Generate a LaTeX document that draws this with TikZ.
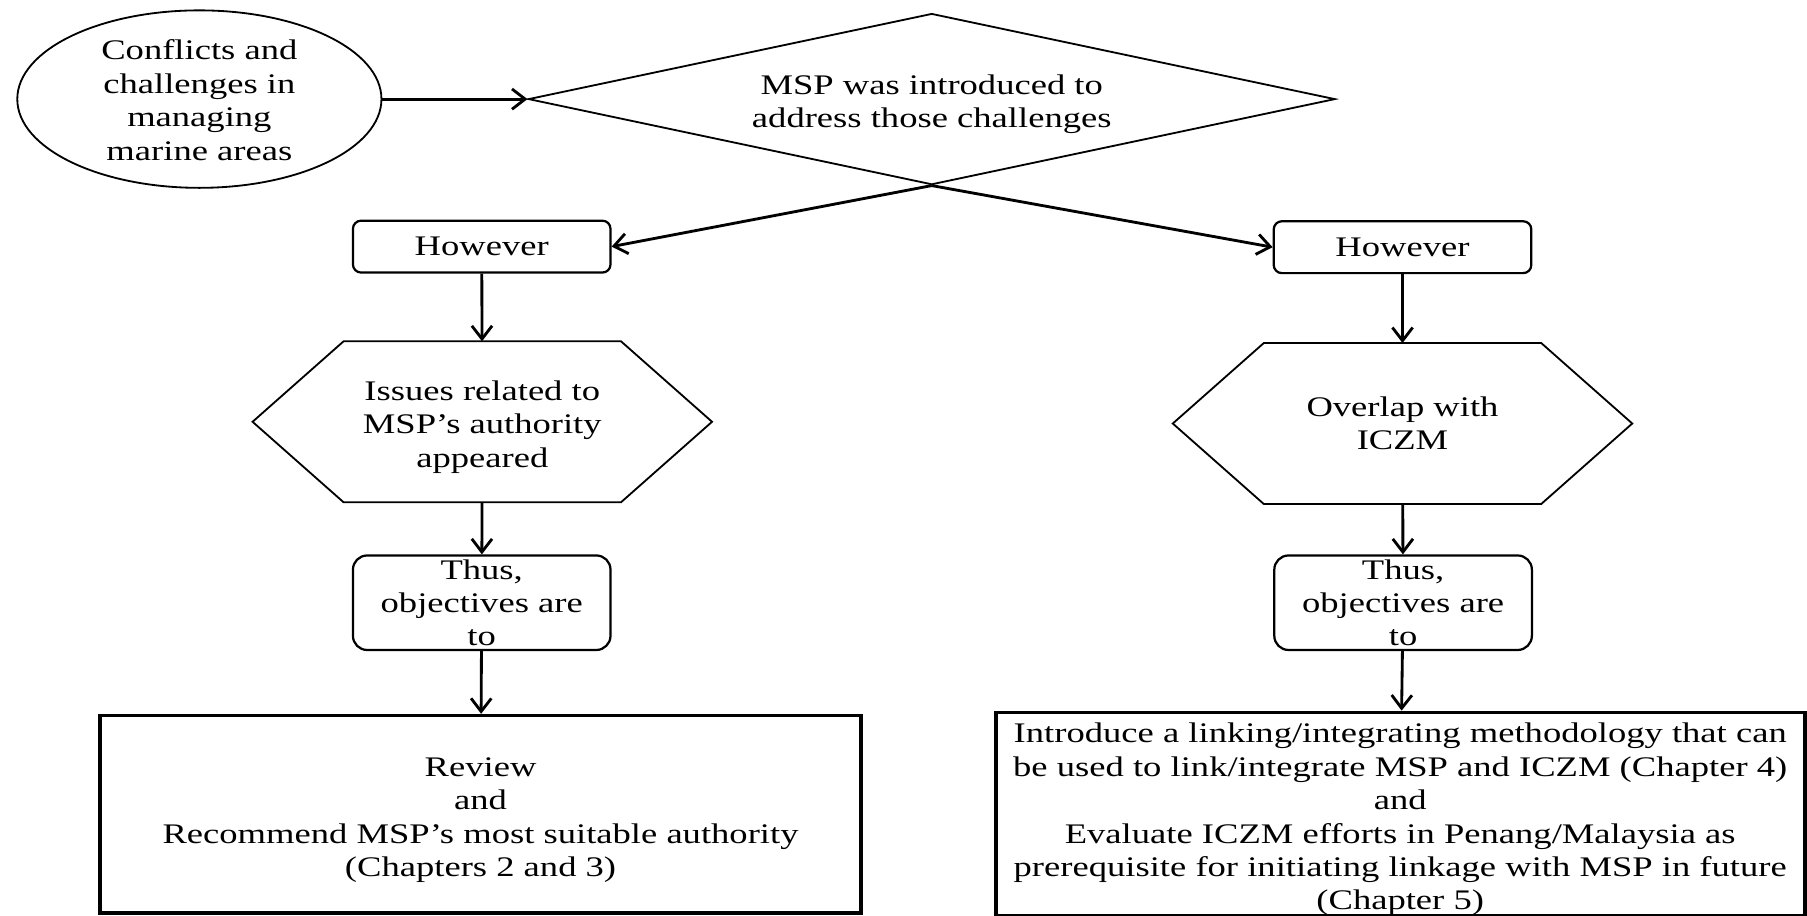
\documentclass[tikz,border=0pt]{standalone}
\usepackage{fontspec}
\setmainfont{Liberation Serif}[FakeStretch=1.29]
\usetikzlibrary{shapes.geometric}
\usetikzlibrary{arrows.meta}

\begin{document}
\begin{tikzpicture}[
	every node/.style={font=\fontsize{14}{16.5}\selectfont, align=center, inner sep=0pt},
	oval/.style={draw, ellipse, line width=0.9pt, minimum width=6.32cm, minimum height=3.08cm},
	rhomb/.style={draw, diamond, aspect=4.7, line width=0.9pt, minimum width=14cm, minimum height=2.97cm},
	howbox/.style={draw, rounded corners=4pt, line width=1.1pt, minimum width=4.47cm, minimum height=0.9cm},
	thusbox/.style={draw, rounded corners=7pt, line width=1.1pt, minimum width=4.47cm, minimum height=1.64cm},
	hexa/.style={minimum width=7.96cm, minimum height=2.78cm},
	bigbox/.style={draw, line width=1.8pt, minimum height=3.42cm},
	arr/.style={-{Straight Barb[length=6.5pt,width=10pt]}, line width=1.4pt}
]
	\useasboundingbox (0,0) rectangle (31.36,-15.88);

	% top row
	\node[oval] (conf) at (3.46,-1.72) {\rule{0pt}{11pt}Conflicts and\\challenges in\\managing\\marine areas};
	\node[rhomb] (msp) at (16.17,-1.72) {\rule{0pt}{15pt}MSP was introduced to\\address those challenges};

	% left branch
	\node[howbox] (how1) at (8.36,-4.28) {However};
	\node[hexa] (hex1) at (8.37,-7.32) {\rule{0pt}{15pt}Issues related to\\MSP’s authority\\appeared};
	\node[thusbox] (thus1) at (8.36,-10.46) {Thus,\\objectives are\\to};
	\node[bigbox, minimum width=13.2cm] (rev) at (8.34,-14.13)
		{\rule{0pt}{15pt}Review\\and\\Recommend MSP’s most suitable authority\\(Chapters 2 and 3)};

	% right branch
	\node[howbox] (how2) at (24.34,-4.29) {However};
	\node[hexa] (hex2) at (24.34,-7.35) {Overlap with\\ICZM};
	\node[thusbox] (thus2) at (24.35,-10.46) {Thus,\\objectives are\\to};
	\node[bigbox, minimum width=14.04cm] (chap) at (24.30,-14.13)
		{\rule{0pt}{15pt}Introduce a linking/integrating methodology that can\\be used to link/integrate MSP and ICZM (Chapter 4)\\and\\Evaluate ICZM efforts in Penang/Malaysia as\\prerequisite for initiating linkage with MSP in future\\(Chapter 5)};

	% hexagon outlines
	\foreach \h in {hex1,hex2}
		\draw[line width=0.9pt] (\h.west) -- ([xshift=1.58cm]\h.north west) -- ([xshift=-1.58cm]\h.north east)
			-- (\h.east) -- ([xshift=-1.58cm]\h.south east) -- ([xshift=1.58cm]\h.south west) -- cycle;

	% connectors
	\draw[arr] (conf.east) -- (msp.west);
	\draw[arr] (msp.south) -- (how1.east);
	\draw[arr] (msp.south) -- (how2.west);
	\draw[arr] (how1) -- (hex1);
	\draw[arr] (hex1) -- (thus1);
	\draw[arr] (thus1) -- (rev);
	\draw[arr] (how2) -- (hex2);
	\draw[arr] (hex2) -- (thus2);
	\draw[arr] (thus2) -- (chap);
\end{tikzpicture}
\end{document}
